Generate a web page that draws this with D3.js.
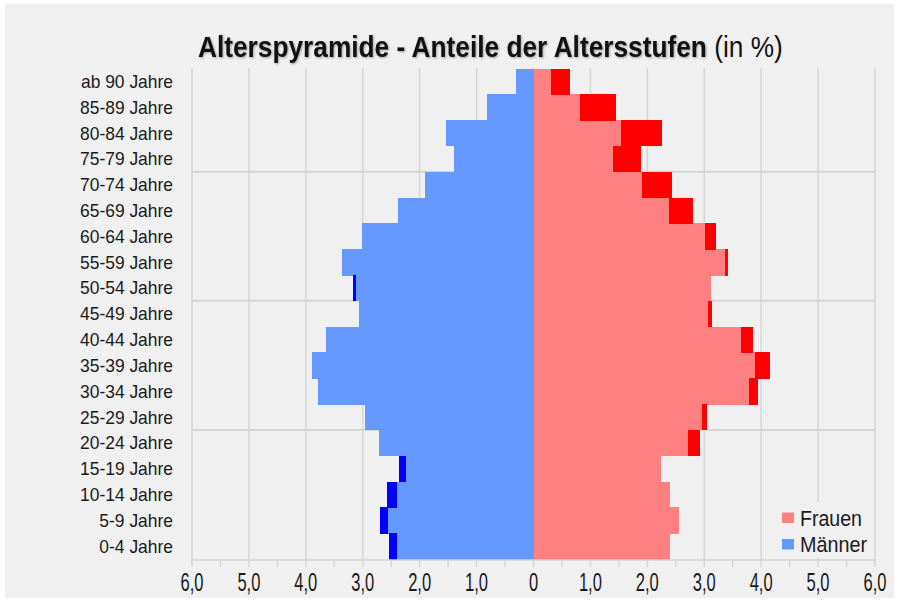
<!DOCTYPE html>
<html><head><meta charset="utf-8">
<script src="https://cdn.jsdelivr.net/npm/d3@7"></script>
<style>html,body{margin:0;padding:0;background:#fff;}svg{display:block;}</style>
</head><body>
<svg id="chart" width="899" height="603"></svg>
<script>
const categories = ["ab 90 Jahre","85-89 Jahre","80-84 Jahre","75-79 Jahre","70-74 Jahre","65-69 Jahre","60-64 Jahre","55-59 Jahre","50-54 Jahre","45-49 Jahre","40-44 Jahre","35-39 Jahre","30-34 Jahre","25-29 Jahre","20-24 Jahre","15-19 Jahre","10-14 Jahre","5-9 Jahre","0-4 Jahre"];
const men   = [0.30,0.81,1.53,1.40,1.91,2.38,3.02,3.36,3.17,3.07,3.64,3.90,3.78,2.96,2.71,2.36,2.57,2.70,2.54];
const women = [0.64,1.45,2.26,1.88,2.44,2.80,3.20,3.41,3.12,3.13,3.85,4.15,3.95,3.05,2.93,2.24,2.39,2.55,2.39];
const tickValues = [-6,-5,-4,-3,-2,-1,0,1,2,3,4,5,6];
const tickLabels = ["6,0","5,0","4,0","3,0","2,0","1,0","0","1,0","2,0","3,0","4,0","5,0","6,0"];
const minorTicks = [-6,-5.5,-5,-4.5,-4,-3.5,-3,-2.5,-2,-1.5,-1,-0.5,0,0.5,1,1.5,2,2.5,3,3.5,4,4.5,5,5.5,6];
const groupLines = ["70-74 Jahre","45-49 Jahre","20-24 Jahre"];
const legendItems = ["Frauen","Männer"];

const C = {bg:"#f0f0f0", grid:"#d6d6d6", lb:"#6699ff", db:"#0000ff", pk:"#ff8080", rd:"#ff0000", text:"#1a1a1a"};
const svg = d3.select("#chart");
svg.append("rect").attr("x",5).attr("y",4).attr("width",889).attr("height",594).attr("fill",C.bg);

const x = d3.scaleLinear().domain([-6,6]).range([192,875]);
const y = d3.scaleBand().domain(categories).range([68.5,559]).padding(0);

// grid
const g = svg.append("g");
g.selectAll("line.v").data(tickValues).join("line")
  .attr("x1",d=>x(d)).attr("x2",d=>x(d)).attr("y1",68).attr("y2",560)
  .attr("stroke",C.grid).attr("stroke-width",1.5);
g.selectAll("line.h").data(groupLines).join("line")
  .attr("x1",x(-6)).attr("x2",x(6)).attr("y1",d=>y(d)).attr("y2",d=>y(d))
  .attr("stroke",C.grid).attr("stroke-width",2);

// bars
const rows = categories.map((c,i)=>({c, m:men[i], w:women[i], lo:Math.min(men[i],women[i])}));
const b = svg.append("g").attr("shape-rendering","crispEdges");
b.selectAll("rect.lb").data(rows).join("rect")
  .attr("x",d=>x(-d.lo)).attr("width",d=>x(0)-x(-d.lo)).attr("y",d=>y(d.c)).attr("height",y.bandwidth()+0.5).attr("fill",C.lb);
b.selectAll("rect.db").data(rows.filter(d=>d.m>d.w)).join("rect")
  .attr("x",d=>x(-d.m)).attr("width",d=>x(-d.lo)-x(-d.m)).attr("y",d=>y(d.c)).attr("height",y.bandwidth()+0.5).attr("fill",C.db);
b.selectAll("rect.pk").data(rows).join("rect")
  .attr("x",x(0)).attr("width",d=>x(d.lo)-x(0)).attr("y",d=>y(d.c)).attr("height",y.bandwidth()+0.5).attr("fill",C.pk);
b.selectAll("rect.rd").data(rows.filter(d=>d.w>d.m)).join("rect")
  .attr("x",d=>x(d.lo)).attr("width",d=>x(d.w)-x(d.lo)).attr("y",d=>y(d.c)).attr("height",y.bandwidth()+0.5).attr("fill",C.rd);

// x axis
const ax = svg.append("g");
ax.append("line").attr("x1",x(-6)).attr("x2",x(6)).attr("y1",560).attr("y2",560).attr("stroke",C.grid).attr("stroke-width",1.5);
ax.selectAll("line.t").data(minorTicks).join("line")
  .attr("x1",d=>x(d)).attr("x2",d=>x(d)).attr("y1",560).attr("y2",567).attr("stroke",C.grid).attr("stroke-width",1.5);
const xl = ax.selectAll("text.xl").data(tickValues).join("text")
  .attr("x",d=>x(d)).attr("y",591).attr("text-anchor","middle")
  .style("font-family","'Liberation Sans Narrow','Arial Narrow',sans-serif").style("font-size","25px").attr("fill",C.text)
  .text((d,i)=>tickLabels[i]);
{ const ref = xl.nodes()[0].getComputedTextLength(); const f = 23/ref;
  xl.each(function(){ const l=this.getComputedTextLength(); d3.select(this).attr("textLength",l*f).attr("lengthAdjust","spacingAndGlyphs"); }); }

// y labels
const yl = svg.append("g").selectAll("text").data(categories).join("text")
  .attr("x",173).attr("y",d=>y(d)+y.bandwidth()/2+6.5).attr("text-anchor","end")
  .style("font-family","'Liberation Sans Narrow','Arial Narrow',sans-serif").style("font-size","19px").attr("fill",C.text)
  .text(d=>d);
{ const ref = yl.nodes()[1].getComputedTextLength(); const f = 93/ref;
  yl.each(function(){ const l=this.getComputedTextLength(); d3.select(this).attr("textLength",l*f).attr("lengthAdjust","spacingAndGlyphs"); }); }

// title (single text element, scaled horizontally to fit)
const title = svg.append("text").attr("x",0).attr("y",0)
  .style("font-family","'Liberation Sans Narrow','Arial Narrow',sans-serif").style("font-size","30px")
  .attr("fill","#111");
title.append("tspan").style("font-weight","bold")
  .style("filter","drop-shadow(1px 1px 1px rgba(0,0,0,0.35))")
  .text("Alterspyramide - Anteile der Altersstufen");
title.append("tspan").style("font-weight","normal").text(" (in %)");
{ const w = title.node().getComputedTextLength(); const sx = 585/w;
  title.attr("transform",`translate(198,57) scale(${sx},1)`); }

// legend
const lg = svg.append("g");
lg.append("rect").attr("x",778).attr("y",502).attr("width",96).attr("height",55).attr("fill",C.bg);
const lcol = [C.pk, C.lb];
const lw = [62, 67];
legendItems.forEach((name,i)=>{
  const yy = 512.5 + i*26.5;
  lg.append("rect").attr("x",782).attr("y",yy).attr("width",12).attr("height",10.5).attr("fill",lcol[i]);
  lg.append("text").attr("x",800).attr("y",yy+13)
    .style("font-family","'Liberation Sans Narrow','Arial Narrow',sans-serif").style("font-size","22px").attr("fill",C.text)
    .attr("textLength",lw[i]).attr("lengthAdjust","spacingAndGlyphs").text(name);
});
</script>
</body></html>
